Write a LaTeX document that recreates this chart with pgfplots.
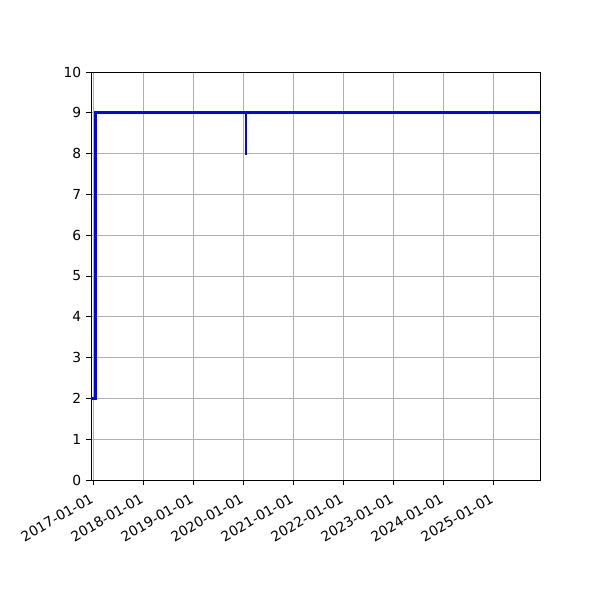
\documentclass[border=0pt]{standalone}
\usepackage{fontspec}
\setmainfont{DejaVu Sans}
\usepackage{pgfplots}
\pgfplotsset{compat=1.18}
\definecolor{gridgray}{HTML}{B0B0B0}
\begin{document}
\begin{tikzpicture}[x=1in,y=1in]
% full figure canvas (6in x 6in)
\path (0,0) rectangle (6,6);
\begin{axis}[
  at={(0.91in,1.20in)}, anchor=south west,
  width=4.49in, height=4.08in, scale only axis,
  xmin=-17, xmax=3263,
  ymin=0, ymax=10,
  xtick={0,365,730,1095,1461,1826,2191,2556,2922},
  xticklabels={2017-01-01,2018-01-01,2019-01-01,2020-01-01,2021-01-01,2022-01-01,2023-01-01,2024-01-01,2025-01-01},
  ytick={0,1,...,10},
  x tick label style={rotate=30, anchor=north east, xshift=-2pt, font=\fontsize{10}{12}\selectfont},
  y tick label style={font=\fontsize{10}{12}\selectfont},
  /pgf/number format/assume math mode=true,
  tick align=outside, tick pos=left,
  major tick length=3.5pt,
  every tick/.style={black, line width=0.7pt},
  axis line style={line width=0.7pt},
  grid=major,
  major grid style={gridgray, line width=0.7pt},
]
\addplot[blue, line width=2pt, mark=none] coordinates {
  (-17,2) (18,2) (18,9) (1115,9) (1115,8) (1116,8) (1116,9) (3263,9)
};
\end{axis}
\end{tikzpicture}
\end{document}
